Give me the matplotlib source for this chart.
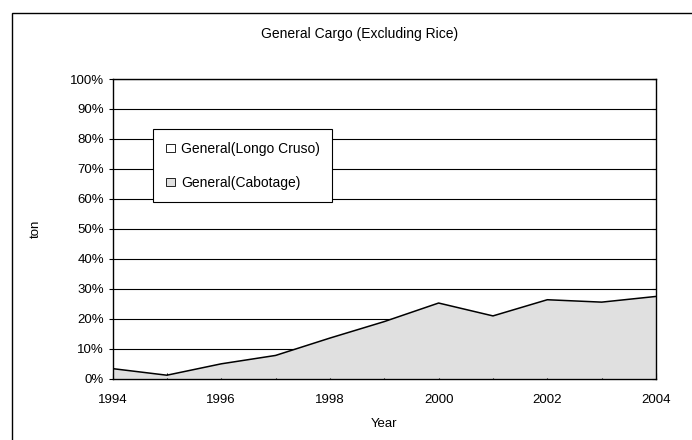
import matplotlib
matplotlib.use("Agg")
import matplotlib.pyplot as plt
from matplotlib.patches import Rectangle, Patch
from matplotlib.ticker import FixedLocator, FuncFormatter

plt.rcParams['font.family'] = ['Liberation Sans', 'DejaVu Sans']
plt.rcParams['font.size'] = 9.5

years = [1994, 1995, 1996, 1997, 1998, 1999, 2000, 2001, 2002, 2003, 2004]
cabotage_share = [3.3, 1.1, 4.9, 7.7, 13.5, 19.0, 25.2, 20.9, 26.3, 25.5, 27.4]
longo_cruso_share = [100 - v for v in cabotage_share]
series_names = ["General(Longo Cruso)", "General(Cabotage)"]
title = "General Cargo (Excluding Rice)"

FS = 9.5
W, H = 692, 440
fig = plt.figure(figsize=(W / 100, H / 100), dpi=100)

# outer chart frame (open at right/bottom)
fig.patches.append(Rectangle((12 / W, -0.1), 1.2, (H - 13) / H + 0.1,
                             transform=fig.transFigure, fill=False,
                             edgecolor='black', linewidth=1.0))

left, right, top, bottom = 112.5, 656, 79, 378.5
ax = fig.add_axes([left / W, (H - bottom) / H, (right - left) / W, (bottom - top) / H])

# stacked 100% areas
cab_top = cabotage_share
ax.fill_between(years, cab_top, [c + l for c, l in zip(cab_top, longo_cruso_share)],
                facecolor='white', edgecolor='none', zorder=0.5)
ax.fill_between(years, 0, cab_top, facecolor='#e0e0e0', edgecolor='none', zorder=2)
ax.plot(years, cab_top, color='black', linewidth=1.1, zorder=3)

ax.set_xlim(1994, 2004)
ax.set_ylim(0, 100)

ax.yaxis.set_major_locator(FixedLocator(range(0, 101, 10)))
ax.yaxis.set_major_formatter(FuncFormatter(lambda v, p: f"{int(v)}%"))
ax.xaxis.set_major_locator(FixedLocator(range(1994, 2005, 2)))
ax.xaxis.set_minor_locator(FixedLocator(range(1994, 2005, 1)))

ax.grid(axis='y', color='black', linewidth=0.8, zorder=1)
ax.set_axisbelow(True)

ax.tick_params(axis='x', which='both', direction='in', length=4, width=0.8,
               pad=11, labelsize=FS, top=False)
ax.tick_params(axis='y', which='major', direction='out', length=3, width=0.8,
               pad=3, labelsize=FS, right=True)
for t in ax.yaxis.get_ticklines()[1::2]:
    t.set_marker(0)  # right-side ticks point inward
    t.set_markersize(3)

for s in ax.spines.values():
    s.set_linewidth(1.0)
    s.set_zorder(4)

ax.set_xlabel("Year", fontsize=FS, labelpad=9)
ax.set_ylabel("ton", fontsize=FS, labelpad=20)

fig.text(360 / W, 1 - 34 / H, title, ha='center', va='center', fontsize=10)

handles = [Patch(facecolor='white', edgecolor='black', linewidth=0.6),
           Patch(facecolor='#e0e0e0', edgecolor='black', linewidth=0.6)]
leg = ax.legend(handles, series_names, loc='upper left',
                bbox_to_anchor=((153 - left) / (right - left), (bottom - 129) / (bottom - top)),
                fancybox=False, shadow=False, framealpha=1, edgecolor='black',
                borderpad=0.9, labelspacing=1.45, handlelength=0.7, handleheight=0.5,
                handletextpad=0.4, borderaxespad=0, prop={'size': 10})
leg.get_frame().set_linewidth(0.8)
leg.set_zorder(5)

fig.savefig("out.png", dpi=100)
